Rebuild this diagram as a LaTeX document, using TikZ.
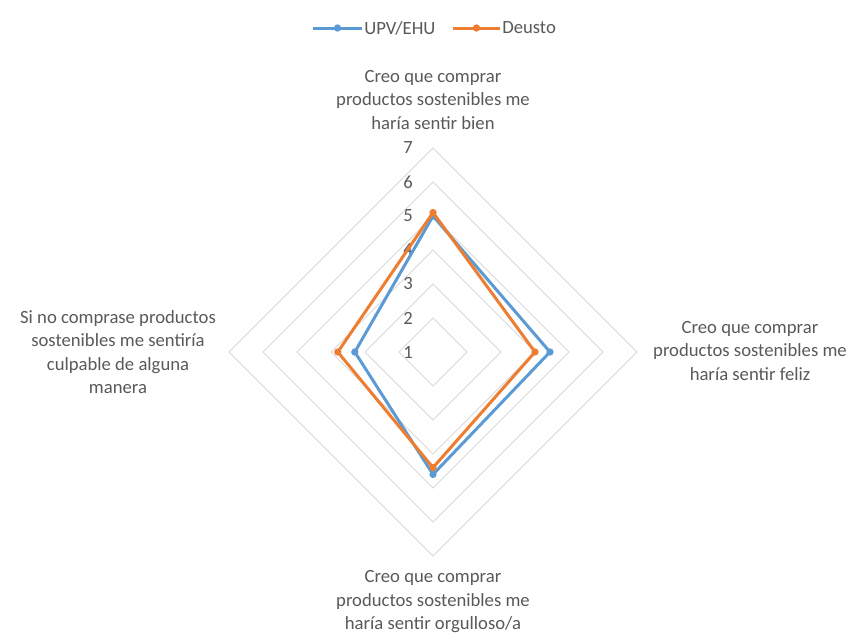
\documentclass[tikz,border=0pt]{standalone}
\usepackage{fontspec}
\setmainfont{Carlito}
\definecolor{upv}{HTML}{5B9BD5}
\definecolor{deu}{HTML}{ED7D31}
\definecolor{gridc}{HTML}{D9D9D9}
\definecolor{txt}{HTML}{595959}
\begin{document}
\begin{tikzpicture}[x=0.75pt,y=-0.75pt,
  gridline/.style={draw=gridc,line width=0.75pt},
  lbl/.style={text=txt,font=\fontsize{14}{17.6}\selectfont,align=center,inner sep=0pt},
  ticklbl/.style={text=txt,font=\fontsize{14}{17}\selectfont,inner sep=0pt,anchor=east},
  serupv/.style={draw=upv,line width=2.25pt,line join=round,line cap=round},
  serdeu/.style={draw=deu,line width=2.25pt,line join=round,line cap=round},
  mkupv/.style={circle,fill=upv,inner sep=0pt,minimum size=5.5pt},
  mkdeu/.style={circle,fill=deu,inner sep=0pt,minimum size=5.5pt}]
\useasboundingbox (0,0) rectangle (853,639);
\def\cx{433}\def\cy{352}\def\st{34}
% grid rings
\foreach \v in {1,...,6}{
  \draw[gridline] (\cx,{\cy-\v*\st}) -- ({\cx+\v*\st},\cy) -- (\cx,{\cy+\v*\st}) -- ({\cx-\v*\st},\cy) -- cycle;
}
% tick labels
\foreach \v in {1,...,7}{
  \node[ticklbl] (t\v) at (413,{\cy-(\v-1)*\st}) {\v};
}
% data points
\coordinate (u1) at (\cx,{\cy-4.0*\st});
\coordinate (u2) at ({\cx+3.44*\st},\cy);
\coordinate (u3) at (\cx,{\cy+3.6*\st});
\coordinate (u4) at ({\cx-2.3*\st},\cy);
\coordinate (d1) at (\cx,{\cy-4.1*\st});
\coordinate (d2) at ({\cx+3.0*\st},\cy);
\coordinate (d3) at (\cx,{\cy+3.4*\st});
\coordinate (d4) at ({\cx-2.8*\st},\cy);
\draw[serupv] (u1) -- (u2) -- (u3) -- (u4) -- cycle;
\foreach \p in {u1,u2,u3,u4}{\node[mkupv] at (\p) {};}
\draw[serdeu] (d1) -- (d2) -- (d3) -- (d4) -- cycle;
\foreach \p in {d1,d2,d3,d4}{\node[mkdeu] at (\p) {};}
% axis category labels
\node[lbl] (ctop) at (433,100) {Creo que comprar\\productos sostenibles me\\haría sentir bien};
\node[lbl] (cright) at (750,351) {Creo que comprar\\productos sostenibles me\\haría sentir feliz};
\node[lbl] (cbottom) at (433,602) {Creo que comprar\\productos sostenibles me\\haría sentir orgulloso/a};
\node[lbl] (cleft) at (118,352) {Si no comprase productos\\sostenibles me sentiría\\culpable de alguna\\manera};
% legend
\coordinate (la1) at (313,28); \coordinate (la2) at (362,28);
\coordinate (lb1) at (453,28); \coordinate (lb2) at (500,28);
\draw[serupv,line cap=butt] (la1) -- (la2);
\node[mkupv] (lma) at (337.5,28) {};
\node[lbl,anchor=west] (lta) at (364,28) {UPV/EHU};
\draw[serdeu,line cap=butt] (lb1) -- (lb2);
\node[mkdeu] (lmb) at (476.5,28) {};
\node[lbl,anchor=west] (ltb) at (502,28) {Deusto};
\end{tikzpicture}
\end{document}
